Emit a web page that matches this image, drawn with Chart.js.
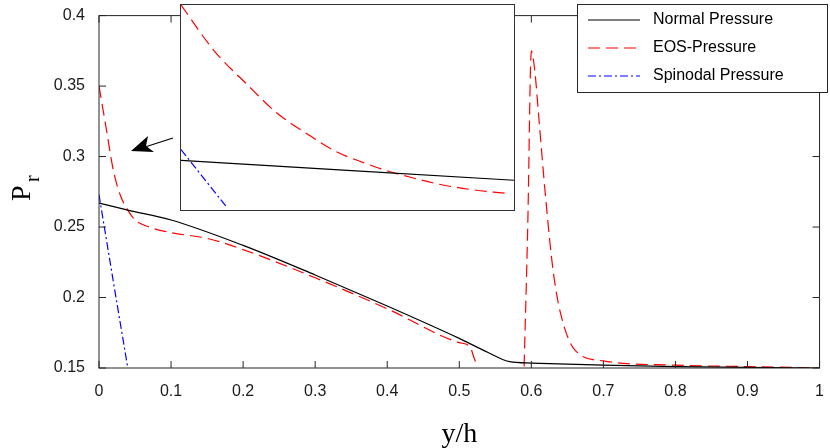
<!DOCTYPE html>
<html><head><meta charset="utf-8">
<script src="https://cdn.jsdelivr.net/npm/chart.js@4"></script>
<style>
body{margin:0;background:#fff;}
#wrap{position:relative;width:830px;height:448px;}
#main{position:absolute;left:0;top:0;}
#insetBox{position:absolute;left:180px;top:4px;width:335px;height:207px;border:1.3px solid #333;background:#fff;box-sizing:border-box;}
</style></head><body>
<div id="wrap">
<canvas id="main" width="830" height="448"></canvas>
<div id="insetBox"><canvas id="inset" width="333" height="205"></canvas></div>
</div>
<script>
const normalX = [0,0.04,0.1,0.2,0.3,0.4,0.5,0.54,0.57,0.6,0.7,0.8,0.9,1.0];
const normalY = [0.267,0.262,0.255,0.237,0.216,0.194,0.171,0.161,0.1545,0.1535,0.152,0.151,0.1505,0.150];
const eosX = [0,0.01,0.02,0.03,0.04,0.05,0.07,0.1,0.15,0.2,0.3,0.4,0.5,0.515,0.52,0.525,0.557,0.59,0.595,0.6,0.605,0.61,0.62,0.63,0.64,0.66,0.7,0.8,0.9,1.0];
const eosY = [0.35,0.32,0.29,0.272,0.262,0.255,0.250,0.246,0.242,0.234,0.214,0.192,0.168,0.165,0.158,0.151,null,0.151,0.25,0.375,0.36,0.33,0.27,0.22,0.19,0.163,0.155,0.152,0.151,0.150];
const spinX = [0,0.02,0.04];
const spinY = [0.273,0.211,0.15];
const xTicks = [0,0.1,0.2,0.3,0.4,0.5,0.6,0.7,0.8,0.9,1];
const yTicks = [0.15,0.2,0.25,0.3,0.35,0.4];
const insetNormalX=[0,1], insetNormalY=[0.242,0.145];
const insetEosX=[0,0.099,0.2,0.288,0.38,0.466,0.55,0.625,0.7,0.774,0.87,0.972];
const insetEosY=[1.0,0.778,0.61,0.473,0.37,0.285,0.23,0.188,0.155,0.126,0.1,0.082];
const insetSpinX=[0,0.139], insetSpinY=[0.295,0.01];
const labels=["Normal Pressure","EOS-Pressure","Spinodal Pressure"];
const colors=["#000000","#ff0000","#0000ff"];
const dashes=[[],[12,6],[8,3,2,3]];
const pts=(xs,ys)=>xs.map((x,i)=>({x,y:ys[i]}));
const ds=(xs,ys,i)=>({label:labels[i],data:pts(xs,ys),borderColor:colors[i],borderDash:dashes[i],borderWidth:1.2,pointRadius:0,showLine:true,tension:0.3,spanGaps:false,cubicInterpolationMode:'monotone'});
const sans='"Liberation Sans", Arial, sans-serif';
const fmt=v=>String(+(+v).toFixed(2));

const deco={id:'deco',afterDraw(c){
 const ctx=c.ctx,a=c.chartArea,xs=c.scales.x,ys=c.scales.y;
 ctx.save();ctx.strokeStyle='#262626';ctx.lineWidth=1;
 ctx.strokeRect(a.left,a.top,a.right-a.left,a.bottom-a.top);
 xTicks.forEach(v=>{const p=xs.getPixelForValue(v);ctx.beginPath();ctx.moveTo(p,a.bottom);ctx.lineTo(p,a.bottom-7);ctx.moveTo(p,a.top);ctx.lineTo(p,a.top+7);ctx.stroke();});
 yTicks.forEach(v=>{const p=ys.getPixelForValue(v);ctx.beginPath();ctx.moveTo(a.left,p);ctx.lineTo(a.left+7,p);ctx.moveTo(a.right,p);ctx.lineTo(a.right-7,p);ctx.stroke();});
 ctx.strokeStyle='#000';ctx.fillStyle='#000';ctx.lineWidth=1.2;
 ctx.beginPath();ctx.moveTo(173,138);ctx.lineTo(145,147);ctx.stroke();
 ctx.beginPath();ctx.moveTo(131,151);ctx.lineTo(148,136);ctx.lineTo(146,146);ctx.lineTo(154,152);ctx.closePath();ctx.fill();
 ctx.fillStyle='#fff';ctx.fillRect(577,4,251,89);
 ctx.strokeStyle='#262626';ctx.lineWidth=1;ctx.strokeRect(577.5,4.5,250,88);
 ctx.font='16px '+sans;ctx.textBaseline='middle';
 labels.forEach((l,i)=>{const y=20+i*28;ctx.strokeStyle=colors[i];ctx.setLineDash(dashes[i]);ctx.lineWidth=1.2;ctx.beginPath();ctx.moveTo(588,y);ctx.lineTo(640,y);ctx.stroke();ctx.setLineDash([]);ctx.fillStyle='#000';ctx.fillText(l,653,y);});
 ctx.fillStyle='#000';ctx.font='28px "Liberation Serif", "Times New Roman", serif';
 ctx.textAlign='center';ctx.textBaseline='alphabetic';
 ctx.fillText('y/h',(a.left+a.right)/2,442);
 ctx.save();ctx.translate(30,185);ctx.rotate(-Math.PI/2);ctx.textAlign='left';
 ctx.fillText('P',-16,0);ctx.font='20px "Liberation Serif", serif';ctx.fillText('r',3,9);ctx.restore();
 ctx.restore();
}};

new Chart(document.getElementById('main'),{type:'scatter',
 data:{datasets:[ds(normalX,normalY,0),ds(eosX,eosY,1),ds(spinX,spinY,2)]},
 options:{responsive:false,animation:false,layout:{padding:{top:4,right:1,left:0,bottom:0}},
  plugins:{legend:{display:false},tooltip:{enabled:false}},
  scales:{
   x:{type:'linear',min:0,max:1,afterFit:s=>{s.height=80;},afterBuildTicks:s=>{s.ticks=xTicks.map(v=>({value:v}));},
      grid:{display:false},border:{display:false},ticks:{color:'#1a1a1a',font:{size:16,family:sans},padding:6,maxRotation:0,callback:fmt}},
   y:{type:'linear',min:0.15,max:0.4,afterFit:s=>{s.width=99;},afterBuildTicks:s=>{s.ticks=yTicks.map(v=>({value:v}));},
      grid:{display:false},border:{display:false},ticks:{color:'#1a1a1a',font:{size:16,family:sans},padding:6,callback:fmt}}
  }},plugins:[deco]});

new Chart(document.getElementById('inset'),{type:'scatter',
 data:{datasets:[ds(insetNormalX,insetNormalY,0),ds(insetEosX,insetEosY,1),ds(insetSpinX,insetSpinY,2)]},
 options:{responsive:false,animation:false,layout:{padding:0},plugins:{legend:{display:false},tooltip:{enabled:false}},
  scales:{x:{type:'linear',min:0,max:1,display:false},y:{type:'linear',min:0,max:1,display:false}}}});
</script>
</body></html>
